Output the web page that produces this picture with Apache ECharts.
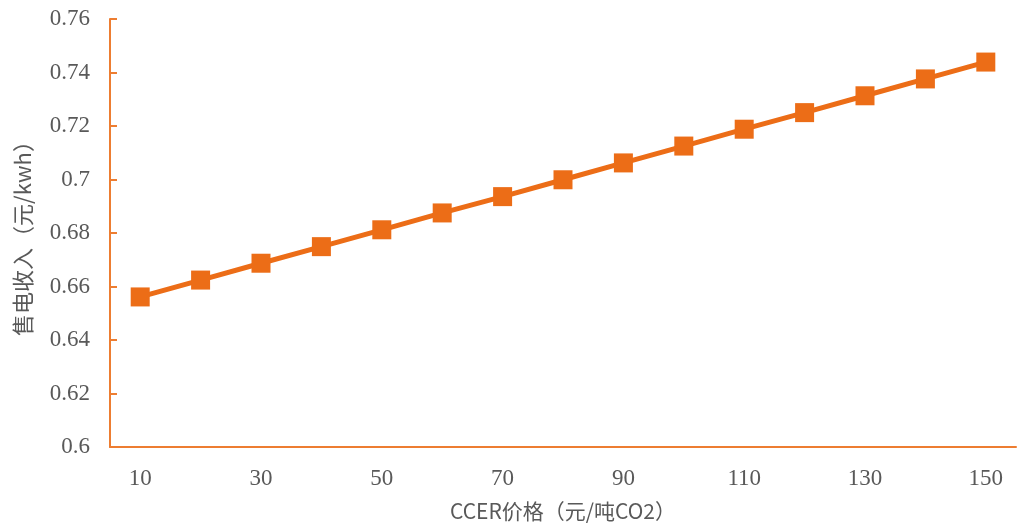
<!DOCTYPE html>
<html>
<head>
<meta charset="utf-8">
<script src="https://cdn.jsdelivr.net/npm/echarts@6/dist/echarts.min.js"></script>
<style>
html,body{margin:0;padding:0;background:#fff;}
#chart{width:1025px;height:525px;}
</style>
</head>
<body>
<div id="chart"></div>
<script>
var categories = ['10','20','30','40','50','60','70','80','90','100','110','120','130','140','150'];
var revenue = [0.6561, 0.6624, 0.6687, 0.6749, 0.6812, 0.6875, 0.6936, 0.6999, 0.7062, 0.7125, 0.7188, 0.7250, 0.7313, 0.7376, 0.7439];
var xTitle = 'CCER价格（元/吨CO2）';
var yTitle = '售电收入（元/kwh）';

var chart = echarts.init(document.getElementById('chart'));
var axisColor = '#ED7D31';
var labelColor = '#595959';
chart.setOption({
  animation: false,
  grid: {left: 110, right: 9, top: 19, bottom: 78, containLabel: false, outerBoundsMode: 'none'},
  xAxis: {
    type: 'category',
    data: categories,
    boundaryGap: true,
    name: xTitle,
    nameLocation: 'middle',
    nameGap: 54,
    nameTextStyle: {fontFamily: 'Noto Sans CJK SC', fontSize: 21, color: labelColor},
    axisLine: {lineStyle: {color: axisColor, width: 2}},
    axisTick: {show: false},
    axisLabel: {interval: 1, fontFamily: 'Liberation Serif', fontSize: 23, color: labelColor, margin: 20},
    splitLine: {show: false}
  },
  yAxis: {
    type: 'value',
    min: 0.6,
    max: 0.76,
    interval: 0.02,
    name: yTitle,
    nameLocation: 'middle',
    nameGap: 76,
    nameRotate: 90,
    nameTextStyle: {fontFamily: 'Noto Sans CJK SC', fontSize: 22, color: labelColor},
    axisLine: {show: true, lineStyle: {color: axisColor, width: 2}},
    axisTick: {show: true, inside: true, length: 7, lineStyle: {color: axisColor, width: 2}},
    axisLabel: {fontFamily: 'Liberation Serif', fontSize: 23, color: labelColor, margin: 20,
      formatter: function(v){ return String(parseFloat(v.toFixed(2))); }},
    splitLine: {show: false}
  },
  series: [{
    type: 'line',
    data: revenue,
    symbol: 'rect',
    symbolSize: 19,
    showAllSymbol: true,
    lineStyle: {color: '#EC6D17', width: 5},
    itemStyle: {color: '#EC6D17'}
  }]
});
</script>
</body>
</html>
